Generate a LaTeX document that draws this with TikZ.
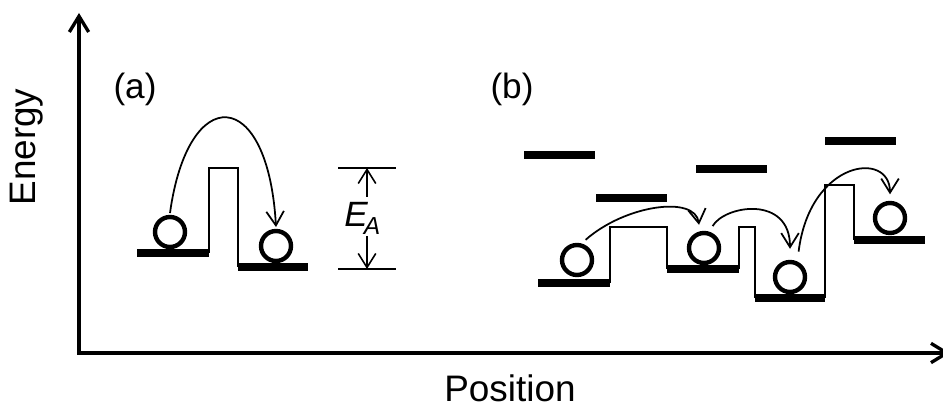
\documentclass[tikz,border=0pt]{standalone}
\usepackage{fontspec}
\setmainfont{Liberation Sans}
\usetikzlibrary{arrows.meta}

\begin{document}
\begin{tikzpicture}[x=0.02cm, y=-0.02cm]
			\tikzstyle{axis} = [line width=1.9pt]
			\tikzstyle{ledge} = [line width=4pt]
			\tikzstyle{barrier} = [line width=1.1pt]
			\tikzstyle{electron} = [draw, circle, line width=2.5pt, minimum size=0.6cm, inner sep=0pt]
			\tikzstyle{hop} = [line width=1pt, -{Straight Barb[length=8pt, width=10pt]}]
			\tikzstyle{lbl} = [font=\fontsize{20}{24}\selectfont, inner sep=0pt]
			\useasboundingbox (0,0) rectangle (943,404);

			% axes
			\coordinate (origin) at (79,353);
			\coordinate (etop) at (79,13);
			\coordinate (pend) at (950,353);
			\draw[axis, {Straight Barb[length=9pt, width=11pt]}-{Straight Barb[length=9pt, width=11pt]}]
			(etop) -- (origin) -- (pend);
			\node[lbl, font=\fontsize{21}{25}\selectfont, rotate=90] (energy) at (27,147) {Energy};
			\node[lbl, font=\fontsize{21}{25}\selectfont] (position) at (510,388) {Position};

			% (a) single barrier
			\node[lbl] (la) at (135,89) {(a)};
			\draw[ledge] (137,253) -- (209,253);
			\draw[barrier] (209,253) -- (209,168) -- (238,168) -- (238,267);
			\draw[ledge] (238,267) -- (308,267);
			\node[electron] (ea1) at (170,232) {};
			\node[electron] (ea2) at (276,246) {};
			\draw[hop] ([yshift=1pt]ea1.north) .. controls (188,82) and (268,85) .. ([yshift=1pt]ea2.north);

			% activation energy
			\coordinate (eahi) at (367,168);
			\coordinate (ealo) at (367,269);
			\draw[line width=0.9pt] (338,168) -- (396,168);
			\draw[line width=0.9pt] (338,269) -- (396,269);
			\node[lbl, anchor=base west] (ea) at (344,227)
			{\textit{E}\kern-0.12em\raisebox{-0.22em}{\fontsize{14}{14}\selectfont\textit{A}}};
			\draw[hop, line width=0.9pt] (367,197) -- (eahi);
			\draw[hop, line width=0.9pt] (367,236) -- (ealo);

			% (b) hopping between levels
			\node[lbl] (lb) at (512,89) {(b)};
			\draw[ledge] (524,155) -- (595,155);
			\draw[ledge] (596,198) -- (667,198);
			\draw[ledge] (696,169) -- (767,169);
			\draw[ledge] (825,141) -- (896,141);

			\draw[ledge] (538,283) -- (610,283);
			\draw[barrier] (610,283) -- (610,227) -- (667,227) -- (667,269);
			\draw[ledge] (667,269) -- (739,269);
			\draw[barrier] (739,269) -- (739,227) -- (755,227) -- (755,298);
			\draw[ledge] (755,298) -- (825,298);
			\draw[barrier] (825,298) -- (825,185) -- (854,185) -- (854,240);
			\draw[ledge] (854,240) -- (925,240);

			\node[electron] (e1) at (577,260) {};
			\node[electron] (e2) at (704,248) {};
			\node[electron] (e3) at (790,277) {};
			\node[electron] (e4) at (890,218) {};

			\draw[hop] ([yshift=3pt]e1.60) .. controls (625,205) and (695,195) .. ([xshift=-0.1cm, yshift=0.12cm]e2.north);
			\draw[hop] ([yshift=4pt]e2.60) .. controls (725,205) and (790,195) .. ([yshift=0.22cm]e3.north);
			\draw[hop] ([yshift=6pt]e3.60) .. controls (810,160) and (890,150) .. ([yshift=0.13cm]e4.north);
\end{tikzpicture}
\end{document}
